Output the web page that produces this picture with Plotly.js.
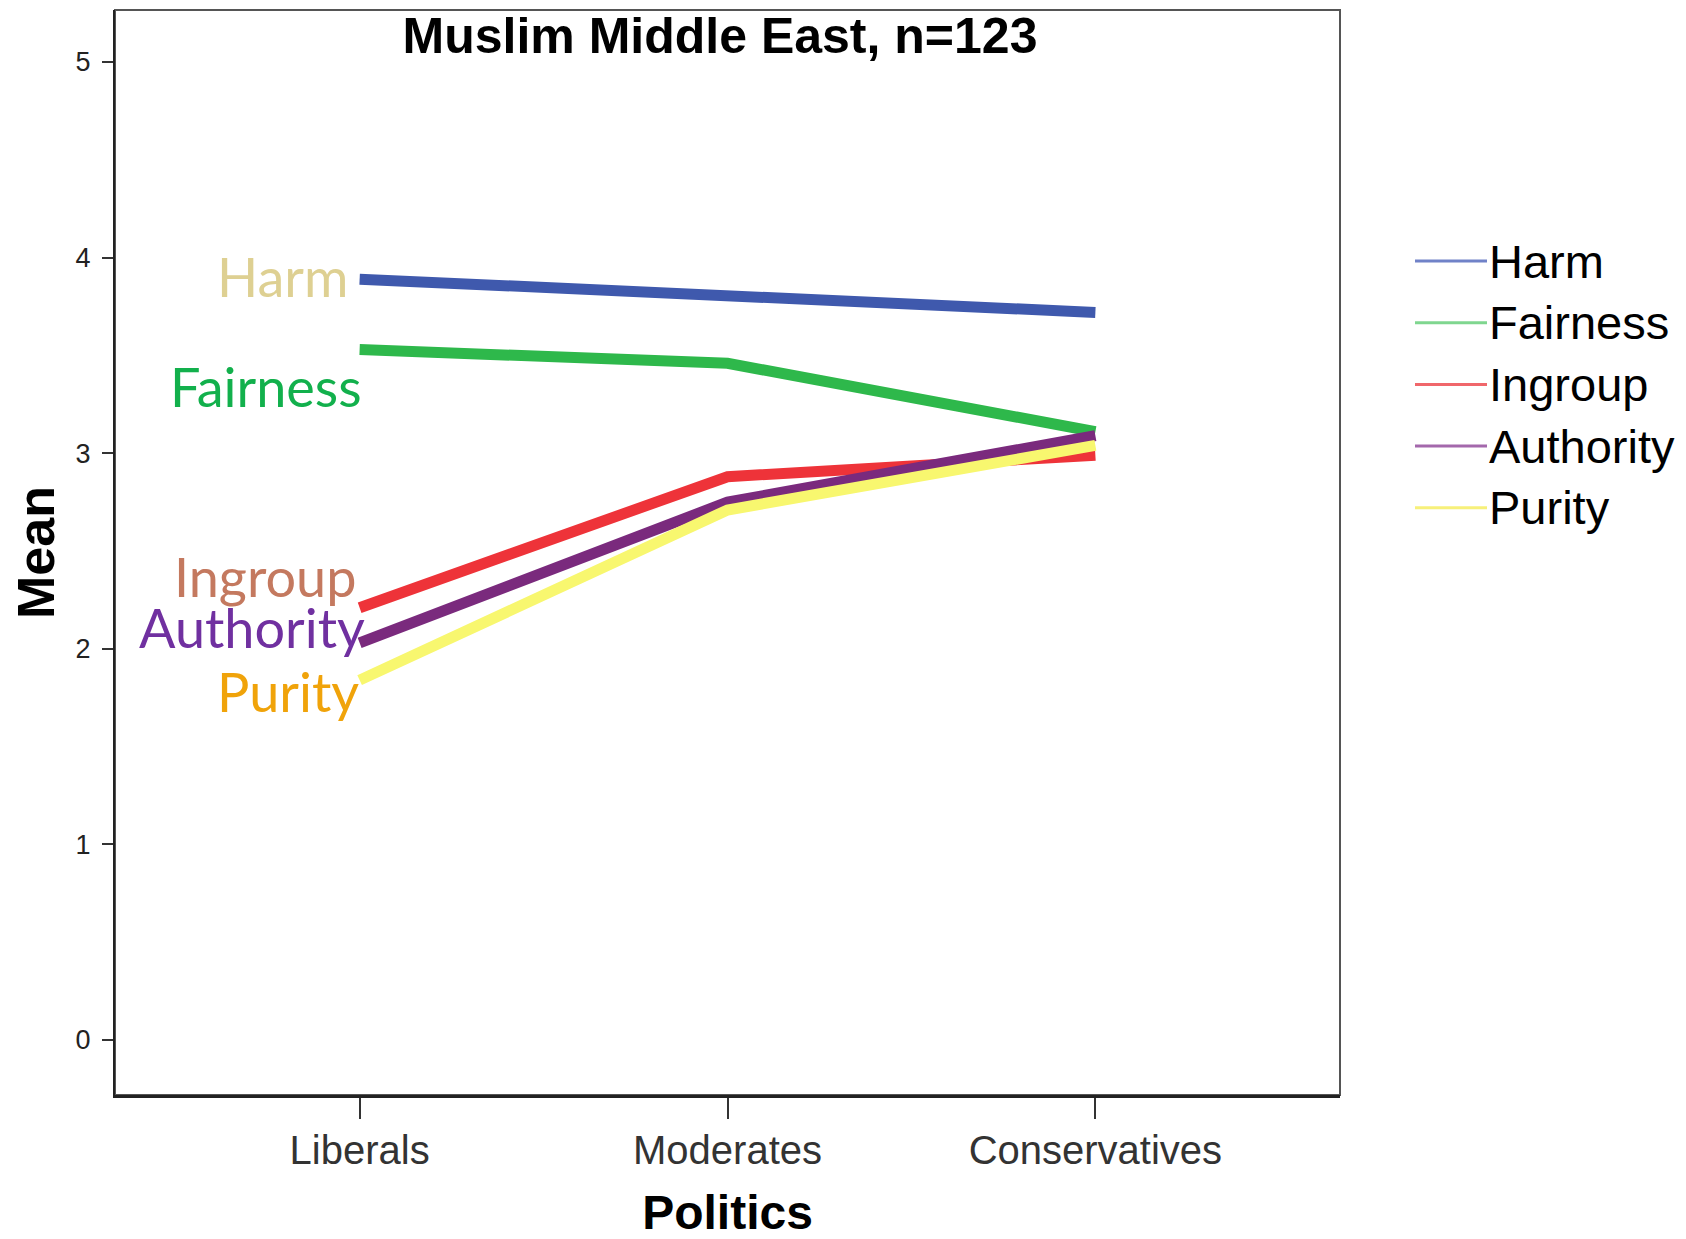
<!DOCTYPE html>
<html>
<head>
<meta charset="utf-8">
<script src="https://cdn.plot.ly/plotly-3.0.1.min.js"></script>
<style>html,body{margin:0;padding:0;background:#fff;}#chart{width:1686px;height:1239px;}</style>
</head>
<body>
<div id="chart"></div>
<script>
// ---- data ----
const categories = ["Liberals", "Moderates", "Conservatives"];
const harm      = [3.89, 3.80, 3.72];
const fairness  = [3.53, 3.46, 3.11];
const ingroup   = [2.21, 2.88, 2.99];
const authority = [2.03, 2.75, 3.09];
const purity    = [1.84, 2.71, 3.04];
const seriesNames = ["Harm", "Fairness", "Ingroup", "Authority", "Purity"];
const yTicks = [0, 1, 2, 3, 4, 5];

// ---- styles ----
const lineColors   = ["#3f59ad", "#2eb84b", "#ee3339", "#7a2a7d", "#f8f76f"];
const legendColors = ["#7082c8", "#7fd68f", "#f0676b", "#a468ac", "#f7f07a"];
const labelColors  = ["#ded092", "#12b04c", "#c4795f", "#7030a0", "#f0a30a"];
const labelY       = [3.905, 3.34, 2.37, 2.11, 1.78];
const labelShift   = [-10, 4, -2, 7, 1];

const allValues = [harm, fairness, ingroup, authority, purity];

const traces = allValues.map((vals, i) => ({
  type: "scatter",
  mode: "lines",
  x: categories,
  y: vals,
  name: seriesNames[i],
  line: {color: lineColors[i], width: 11},
  showlegend: false,
  hoverinfo: "skip"
}));

const annotations = [];
const shapes = [];

// plot area in px: left 115, right 1340, top 10, bottom 1095
const L = 115, R = 1340, T = 10, B = 1095;
const px2x = px => (px - L) / (R - L);
const py2y = py => (B - py) / (B - T);

// inline labels
seriesNames.forEach((nm, i) => {
  annotations.push({
    x: categories[0], y: labelY[i], xref: "x", yref: "y",
    text: nm, showarrow: false, xanchor: "right", yanchor: "middle",
    xshift: labelShift[i],
    font: {family: "Lato, 'Open Sans', sans-serif", size: 54, color: labelColors[i]}
  });
});

// manual legend
seriesNames.forEach((nm, i) => {
  const cy = 261 + i * 61.7;
  shapes.push({
    type: "line", xref: "paper", yref: "paper",
    x0: px2x(1415), x1: px2x(1487), y0: py2y(cy), y1: py2y(cy),
    line: {color: legendColors[i], width: 3}
  });
  annotations.push({
    x: px2x(1487), y: py2y(cy), xref: "paper", yref: "paper",
    text: nm, showarrow: false, xanchor: "left", yanchor: "middle",
    font: {family: "'Liberation Sans', Arial, sans-serif", size: 47, color: "#000"}
  });
});

// frame
shapes.push({
  type: "rect", xref: "paper", yref: "paper", x0: 0, x1: 1, y0: 0, y1: 1,
  line: {color: "#555", width: 2}, layer: "below"
});

const layout = {
  width: 1686, height: 1239,
  paper_bgcolor: "#fff", plot_bgcolor: "#fff",
  margin: {l: L, r: 1686 - R, t: T, b: 1239 - B},
  showlegend: false,
  title: {
    text: "<b>Muslim Middle East, n=123</b>",
    font: {family: "'Liberation Sans', Arial, sans-serif", size: 50, color: "#000"},
    x: 720 / 1686, xanchor: "center",
    y: 1 - 35 / 1239, yanchor: "middle", xref: "container", yref: "container"
  },
  xaxis: {
    type: "category",
    range: [-0.665, 2.665],
    showgrid: false, zeroline: false,
    showline: true, linecolor: "#222", linewidth: 3,
    ticks: "outside", ticklen: 21, tickwidth: 2, tickcolor: "#333",
    tickfont: {family: "'Liberation Sans', Arial, sans-serif", size: 40, color: "#333"},
    ticklabelstandoff: -3,
    title: {text: "<b>Politics</b>", standoff: 50,
      font: {family: "'Liberation Sans', Arial, sans-serif", size: 48, color: "#000"}},
    automargin: false
  },
  yaxis: {
    range: [-0.281, 5.266],
    tickvals: yTicks, ticktext: yTicks.map(String),
    showgrid: false, zeroline: false,
    showline: true, linecolor: "#222", linewidth: 2,
    ticks: "outside", ticklen: 11, tickwidth: 2, tickcolor: "#333",
    tickfont: {family: "'Liberation Sans', Arial, sans-serif", size: 27, color: "#222"},
    ticklabelstandoff: 6,
    title: {text: "<b>Mean</b>", standoff: 4,
      font: {family: "'Liberation Sans', Arial, sans-serif", size: 52, color: "#000"}},
    automargin: false
  },
  annotations: annotations,
  shapes: shapes
};

Plotly.newPlot("chart", traces, layout, {staticPlot: true, displayModeBar: false});
</script>
</body>
</html>
